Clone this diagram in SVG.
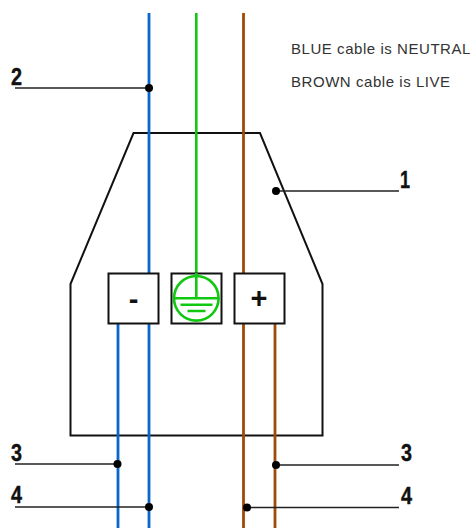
<svg xmlns="http://www.w3.org/2000/svg" width="474" height="528" viewBox="0 0 474 528">
<defs><style>
.blue{stroke:#0a66c8;stroke-width:2.8;fill:none}
.brown{stroke:#a04a08;stroke-width:2.8;fill:none}
.green{stroke:#10c810;stroke-width:2.600;fill:none}
.box{stroke:#111;stroke-width:2;fill:#fff}
.lead{stroke:#222;stroke-width:1.500;fill:none}
.dot{fill:#000}
.num{font-family:"Liberation Sans",Arial,sans-serif;font-weight:700;font-size:23px;fill:#111;stroke:#111;stroke-width:.4}
.note{font-family:"Liberation Sans",Arial,sans-serif;font-size:15px;fill:#333;letter-spacing:.55px}
.sign{font-family:"Liberation Sans",Arial,sans-serif;font-weight:700;font-size:29px;fill:#111;text-anchor:middle}
</style></defs>
<rect width="474" height="528" fill="#fff"/>
<g id="housing"><path d="M133.500 133H260L322.500 284V435.500H70.500V284Z" fill="#fff" stroke="#111" stroke-width="2"/></g>
<g id="connectors">
<path class="blue" d="M149 13V274M149 323V528M118 323V528"/>
<path class="brown" d="M243.500 13V274M243.500 323V528M275 323V528"/>
<path class="green" d="M196.300 13V274"/>
<path class="lead" d="M15 88H149M15 464H118M15 507H149M275 191H399M276 465H399M247 507.500H399"/>
<circle class="dot" cx="149" cy="88" r="4"/>
<circle class="dot" cx="276" cy="191" r="4"/>
<circle class="dot" cx="117.500" cy="464" r="4"/>
<circle class="dot" cx="149" cy="507" r="4"/>
<circle class="dot" cx="276" cy="465" r="4"/>
<circle class="dot" cx="247" cy="507.500" r="4"/>
</g>
<g id="terminal-neutral"><rect class="box" x="108.500" y="273.500" width="50" height="50"/><text class="sign" x="133.500" y="309">-</text></g>
<g id="terminal-earth"><rect class="box" x="171.500" y="273.500" width="50" height="50"/>
<circle class="green" cx="196.300" cy="298.300" r="22.300"/><path class="green" d="M196.300 273V298.300M174 298.300H218.600M180.500 304.800H212.500M187.500 311H205.500"/></g>
<g id="terminal-live"><rect class="box" x="234.500" y="273.500" width="50" height="50"/><text class="sign" x="259" y="308">+</text></g>
<g id="labels">
<text class="num" x="11" y="85" textLength="11" lengthAdjust="spacingAndGlyphs">2</text>
<text class="num" x="400" y="188" textLength="10" lengthAdjust="spacingAndGlyphs">1</text>
<text class="num" x="11" y="461" textLength="11" lengthAdjust="spacingAndGlyphs">3</text>
<text class="num" x="11" y="503" textLength="11" lengthAdjust="spacingAndGlyphs">4</text>
<text class="num" x="401" y="461" textLength="11" lengthAdjust="spacingAndGlyphs">3</text>
<text class="num" x="401" y="503.500" textLength="11" lengthAdjust="spacingAndGlyphs">4</text>
<text class="note" x="291" y="54">BLUE cable is NEUTRAL</text>
<text class="note" x="291" y="86.500">BROWN cable is LIVE</text>
</g>
</svg>
